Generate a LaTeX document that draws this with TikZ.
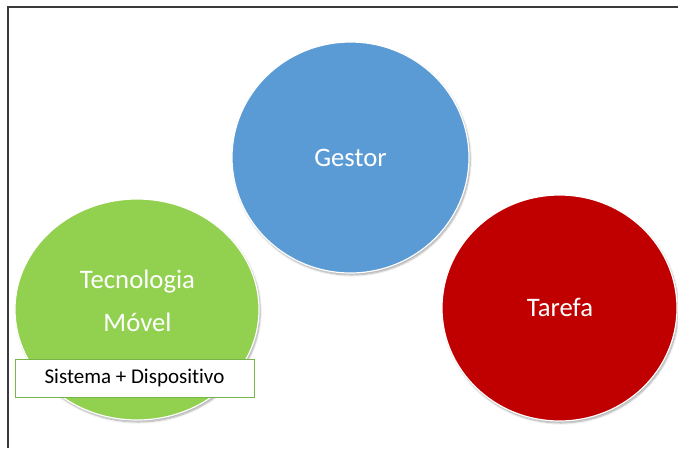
\documentclass[tikz,border=0pt]{standalone}
\usepackage{fontspec}
\setmainfont[Ligatures={NoCommon,NoRequired,NoContextual}]{Carlito}
\usetikzlibrary{shapes.geometric,shadows.blur}
\definecolor{gblue}{HTML}{5B9BD5}
\definecolor{ggreen}{HTML}{92D050}
\definecolor{gred}{HTML}{C00000}
\definecolor{boxgreen}{HTML}{78B64C}
\definecolor{framegray}{HTML}{3A3A3A}
\tikzset{
  bubble/.style={ellipse, draw=white, line width=1.2pt, inner sep=0pt,
    blur shadow={shadow xshift=1.2pt, shadow yshift=-2pt, shadow blur steps=6, shadow opacity=35}},
  bubbletext/.style={text=white, font=\fontsize{26.7}{43}\selectfont, align=center, inner sep=0pt},
  tagbox/.style={draw=boxgreen, fill=white, line width=1pt, inner sep=0pt,
    minimum width=239pt, minimum height=38pt, font=\fontsize{21}{25}\selectfont},
  frameline/.style={draw=framegray, line width=2pt}
}
\begin{document}
\begin{tikzpicture}[x=1pt,y=-1pt]
\useasboundingbox (0,0) rectangle (678,448);
\coordinate (fa) at (7.5,448);
\coordinate (fb) at (7.5,7);
\coordinate (fc) at (678,7);
\draw[frameline] (fa) -- (fb) -- (fc);
\node[bubble, fill=gblue, minimum width=237pt, minimum height=231pt] (gestor) at (350.5,157.5) {};
\node[bubbletext] (gestortext) at (350.5,158) {Gestor};
\node[bubble, fill=ggreen, minimum width=244pt, minimum height=221pt] (tm) at (137,309.5) {};
\node[bubbletext] (tmtext) at (137.5,301) {Tecnologia\\Móvel};
\node[bubble, fill=gred, minimum width=235pt, minimum height=226pt] (tarefa) at (559.5,308) {};
\node[bubbletext] (tarefatext) at (560,307) {Tarefa};
\node[tagbox] (tag) at (134.5,378) {Sistema + Dispositivo};
\end{tikzpicture}
\end{document}
